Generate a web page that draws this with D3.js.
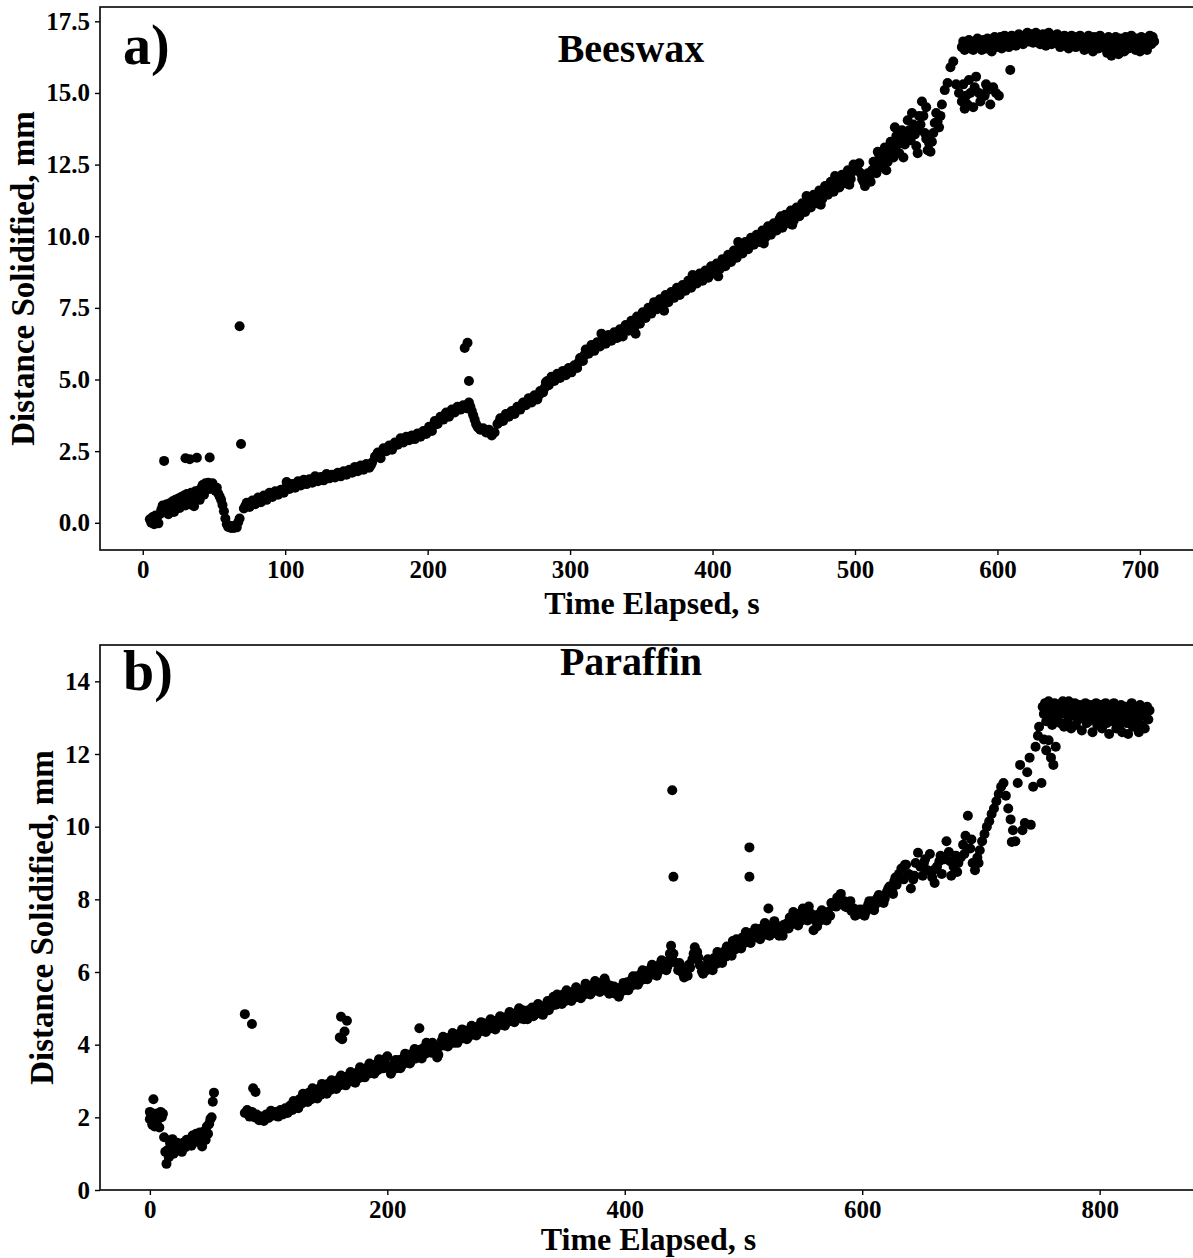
<!DOCTYPE html>
<html>
<head>
<meta charset="utf-8">
<script src="https://cdn.jsdelivr.net/npm/d3@7"></script>
<style>
  html, body { margin: 0; padding: 0; background: #fff; }
  svg { display: block; }
  text { font-family: "Liberation Serif", "Times New Roman", serif; font-weight: bold; fill: #000; }
</style>
</head>
<body>
<svg id="chart" width="1193" height="1258"></svg>
<script>
// Solidification front vs. time — two stacked scatter panels

// --- data (time s, distance mm) ---
const beeswax = [
  [5,0.12],[6,0.0],[7,0.2],[8,-0.05],[9,0.25],[10,0.05],[11,-0.02],[12,0.3],[13,0.45],[14,0.6],
  [15,2.16],[16,0.42],[17,0.65],[18,0.3],[19,0.68],[20,0.48],[21,0.75],[22,0.38],[23,0.8],[24,0.58],
  [25,0.85],[26,0.52],[27,0.9],[28,0.68],[29,0.95],[30,2.25],[30,0.6],[31,1.0],[32,0.78],[33,2.22],
  [33,0.65],[34,1.05],[35,0.82],[36,0.58],[37,1.1],[38,2.27],[38,0.88],[39,1.12],[40,0.8],[41,1.2],
  [42,1.32],[43,0.98],[44,1.38],[45,1.22],[46,1.4],[47,2.28],[47,1.18],[48,1.32],[49,1.38],[50,1.25],
  [51,1.12],[52,1.22],[53,1.02],[54,0.92],[55,0.8],[56,0.62],[57,0.4],[58,0.15],[59,-0.05],[60,-0.15],
  [61,-0.1],[62,-0.18],[63,-0.12],[64,-0.18],[65,-0.1],[66,-0.16],[67,0.02],[68,0.15],[68,6.86],[69,2.75],
  [71,0.5],[73,0.7],[75,0.55],[77,0.78],[79,0.65],[81,0.88],[83,0.72],[85,0.95],[87,0.8],[89,1.05],
  [91,0.9],[93,1.1],[95,0.98],[97,1.15],[99,1.05],[101,1.42],[103,1.18],[105,1.35],[107,1.22],[109,1.45],
  [111,1.3],[113,1.5],[115,1.35],[117,1.52],[119,1.4],[121,1.62],[123,1.45],[125,1.6],[127,1.48],[129,1.7],
  [131,1.55],[133,1.68],[135,1.58],[137,1.75],[139,1.62],[141,1.8],[143,1.68],[145,1.85],[147,1.75],[149,1.95],
  [151,1.8],[153,2.0],[155,1.85],[157,2.05],[159,1.92],[161,2.1],[163,2.3],[165,2.45],[167,2.25],[169,2.6],
  [171,2.5],[173,2.7],[175,2.55],[177,2.8],[179,2.72],[181,2.95],[183,2.8],[185,3.0],[187,2.88],[189,3.05],
  [191,2.92],[193,3.12],[195,3.0],[197,3.2],[199,3.1],[201,3.35],[203,3.2],[205,3.55],[207,3.45],[209,3.7],
  [211,3.6],[213,3.85],[215,3.7],[217,3.95],[219,3.85],[221,4.05],[223,3.95],[225,4.1],[226,6.1],[227,4.0],
  [228,6.28],[229,4.2],[229,4.95],[230,4.05],[231,3.9],[232,3.75],[233,3.6],[234,3.45],[235,3.35],[236,3.3],
  [237,3.25],[239,3.3],[241,3.15],[243,3.25],[245,3.05],[247,3.15],[249,3.45],[251,3.65],[253,3.55],[255,3.8],
  [257,3.7],[259,3.9],[261,3.8],[263,4.05],[265,3.95],[267,4.2],[269,4.1],[271,4.35],[273,4.2],[275,4.45],
  [277,4.3],[279,4.6],[281,4.55],[283,4.9],[285,4.8],[287,5.1],[289,4.95],[291,5.2],[293,5.05],[295,5.3],
  [297,5.15],[299,5.4],[301,5.25],[303,5.5],[305,5.4],[307,5.75],[309,5.65],[311,6.05],[313,5.9],[315,6.2],
  [317,6.0],[319,6.3],[321,6.15],[323,6.45],[325,6.25],[327,6.55],[329,6.35],[331,6.65],[333,6.45],[335,6.75],
  [337,6.5],[339,6.9],[341,6.7],[343,7.05],[345,6.8],[347,7.2],[349,6.95],[351,7.35],[353,7.15],[355,7.5],
  [357,7.3],[359,7.7],[361,7.45],[363,7.8],[365,7.55],[367,7.95],[369,7.7],[371,8.05],[373,7.85],[375,8.2],
  [377,7.95],[379,8.3],[381,8.1],[383,8.45],[385,8.2],[387,8.55],[389,8.35],[391,8.7],[393,8.45],[395,8.8],
  [397,8.55],[399,8.95],[401,8.7],[403,9.05],[405,8.85],[407,9.2],[409,8.95],[411,9.35],[413,9.1],[415,9.5],
  [417,9.25],[419,9.65],[421,9.4],[423,9.8],[425,9.55],[427,9.95],[429,9.7],[431,10.05],[433,9.8],[435,10.2],
  [437,9.95],[439,10.35],[441,10.05],[443,10.45],[445,10.2],[447,10.6],[449,10.3],[451,10.75],[453,10.45],[455,10.9],
  [457,10.55],[459,11.0],[461,10.7],[463,11.15],[465,10.85],[467,11.3],[469,11.0],[471,11.45],[473,11.15],[475,11.6],
  [477,11.3],[479,11.75],[481,11.45],[483,11.9],[485,11.55],[487,12.0],[489,11.7],[491,12.15],[493,11.85],[495,12.3],
  [497,12.0],[499,12.5],[501,12.35],[503,12.55],[505,12.0],[507,11.75],[509,12.2],[511,11.9],[513,12.6],[515,12.2],
  [517,12.85],[519,12.4],[521,13.1],[523,12.6],[525,13.3],[527,12.75],[529,13.5],[531,12.9],[533,13.7],[535,13.2],
  [537,14.05],[539,13.35],[541,13.9],[543,13.15],[545,14.2],[547,14.7],[549,13.6],[551,13.0],[553,12.95],[555,13.6],
  [557,14.3],[559,13.8],[561,14.6],[563,15.1],[565,15.35],[567,15.9],[569,16.1],[571,15.3],[573,15.0],[575,14.7],
  [576,15.3],[577,14.45],[578,14.9],[579,14.6],[580,15.45],[581,15.0],[583,14.5],[584,15.2],[585,15.57],[587,15.0],
  [588,14.7],[589,14.85],[591,14.9],[592,15.3],[593,15.1],[595,14.6],[597,15.2],[599,15.0],[601,14.9],[609,15.8],
  [575,16.6],[576,16.8],[577,16.5],[578,16.75],[579,16.6],[580,16.85],[581,16.55],[582,16.7],[583,16.5],[584,16.8],
  [585,16.65],[586,16.9],[587,16.6],[588,16.75],[589,16.5],[590,16.85],[591,16.7],[592,16.55],[593,16.9],[594,16.65],
  [595,16.8],[596,16.45],[597,16.75],[598,16.95],[599,16.6],[600,16.85],[601,16.7],[602,16.95],[603,16.55],[604,16.8],
  [605,17.0],[606,16.7],[607,16.9],[608,16.6],[609,16.85],[610,17.0],[611,16.75],[612,16.95],[613,16.65],[614,16.9],
  [615,17.05],[616,16.8],[617,16.95],[618,16.7],[619,17.0],[620,16.85],[621,17.1],[622,16.8],[623,16.95],[624,17.05],
  [625,16.75],[626,16.9],[627,17.1],[628,16.85],[629,17.0],[630,16.7],[631,16.95],[632,17.05],[633,16.8],[634,16.65],
  [635,16.95],[636,17.1],[637,16.85],[638,16.7],[639,17.0],[640,16.9],[641,16.75],[642,17.05],[643,16.85],[644,16.6],
  [645,16.95],[646,16.8],[647,17.0],[648,16.7],[649,16.9],[650,16.55],[651,16.85],[652,17.0],[653,16.75],[654,16.9],
  [655,16.6],[656,16.95],[657,16.8],[658,17.0],[659,16.65],[660,16.85],[661,16.5],[662,16.9],[663,16.75],[664,17.0],
  [665,16.6],[666,16.85],[667,16.45],[668,16.95],[669,16.7],[670,16.85],[671,16.55],[672,17.0],[673,16.75],[674,16.9],
  [675,16.6],[676,16.8],[677,16.4],[678,16.95],[679,16.7],[680,16.3],[681,16.85],[682,16.6],[683,16.95],[684,16.75],
  [685,16.35],[686,16.9],[687,16.65],[688,16.8],[689,16.45],[690,16.95],[691,16.7],[692,16.55],[693,16.85],[694,17.0],
  [695,16.6],[696,16.8],[697,16.5],[698,16.9],[699,16.7],[700,16.45],[701,16.95],[702,16.75],[703,16.6],[704,16.9],
  [705,16.5],[706,16.85],[707,17.0],[708,16.7],[709,16.95],[710,16.8]
]

// extra beeswax readings inside the thick part of the band
const beeswaxBand = [
  [72,0.58],[76,0.72],[80,0.75],[84,0.85],[88,0.95],[92,1.02],[96,1.1],[100,1.2],[104,1.25],[108,1.35],
  [112,1.4],[116,1.45],[120,1.5],[124,1.55],[128,1.6],[132,1.62],[136,1.68],[140,1.72],[144,1.78],[148,1.82],
  [152,1.9],[156,1.95],[160,2.0],[164,2.35],[168,2.45],[172,2.6],[176,2.7],[180,2.82],[184,2.9],[188,2.98],
  [192,3.02],[196,3.1],[200,3.22],[204,3.4],[208,3.58],[212,3.75],[216,3.82],[220,3.95],[224,4.05],[228,4.1],
  [250,3.5],[254,3.7],[258,3.85],[262,3.95],[266,4.1],[270,4.25],[274,4.35],[278,4.45],
  [282,4.7],[284,4.95],[286,4.9],[288,5.05],[290,5.1],[292,5.1],[294,5.2],[296,5.25],[298,5.3],[300,5.35],
  [302,5.4],[304,5.45],[306,5.6],[308,5.7],[310,5.85],[312,5.95],[314,6.05],[316,6.1],[318,6.15],[320,6.25],
  [322,6.3],[324,6.35],[326,6.4],[328,6.45],[330,6.5],[332,6.55],[334,6.6],[336,6.65],[338,6.7],[340,6.8],
  [342,6.85],[344,6.95],[346,7.0],[348,7.1],[350,7.15],[352,7.25],[354,7.35],[356,7.4],[358,7.5],[360,7.6],
  [362,7.65],[364,7.7],[366,7.75],[368,7.85],[370,7.9],[372,7.95],[374,8.0],[376,8.1],[378,8.15],[380,8.2],
  [382,8.3],[384,8.35],[386,8.4],[388,8.45],[390,8.55],[392,8.6],[394,8.65],[396,8.7],[398,8.75],[400,8.85],
  [402,8.9],[404,8.95],[406,9.05],[408,9.1],[410,9.15],[412,9.25],[414,9.3],[416,9.4],[418,9.45],[420,9.55],
  [422,9.6],[424,9.7],[426,9.75],[428,9.85],[430,9.9],[432,9.95],[434,10.0],[436,10.1],[438,10.15],[440,10.2],
  [442,10.25],[444,10.35],[446,10.4],[448,10.45],[450,10.55],[452,10.6],[454,10.7],[456,10.75],[458,10.8],[460,10.85],
  [462,10.95],[464,11.0],[466,11.1],[468,11.15],[470,11.2],[472,11.3],[474,11.4],[476,11.45],[478,11.55],[480,11.6],
  [482,11.7],[484,11.75],[486,11.8],[488,11.85],[490,11.95],[492,12.0],[494,12.1],[496,12.15],[498,12.25],[500,12.45],
  [502,12.3],[504,12.2],[506,11.9],[508,11.95],[510,12.05],[512,12.3],[514,12.4],[516,12.5],[518,12.65],[520,12.75],
  [522,12.85],[524,12.95],[526,13.05],[528,13.1],[530,13.2],[532,13.35],[534,13.45],[536,13.6],[538,13.7],[540,13.65],
  [542,13.55],[544,13.7],[546,13.9],[548,14.2],[550,13.4],[552,13.25],[554,13.3],[556,13.95],[558,14.0],[560,14.2],
  [322,6.6],[346,6.6],[366,7.4],[386,8.65],[404,8.6],[418,9.8],[436,9.75],[448,10.7],[456,10.4],[466,11.4],
  [476,11.1],[486,12.1],[496,11.8],[516,12.95],[522,12.3],[528,13.8],[534,12.75],[540,14.3],[544,12.9],[550,14.5]
]

const paraffin = [
  [0,2.15],[0,1.95],[1,2.0],[2,1.8],[3,2.5],[4,1.75],[5,2.1],[6,1.9],[7,2.05],[8,1.72],[9,2.15],
  [10,2.0],[11,2.1],[12,1.45],[13,1.05],[14,0.72],[15,1.1],[16,0.9],[17,1.3],[18,1.05],[19,1.4],
  [20,1.0],[21,1.2],[22,1.1],[23,1.3],[24,1.15],[26,1.2],[27,1.05],[28,1.3],[30,1.18],[31,1.38],[32,1.25],
  [34,1.4],[35,1.22],[36,1.5],[38,1.32],[39,1.55],[40,1.42],[42,1.58],[44,1.2],[45,1.45],[46,1.62],[47,1.38],
  [48,1.75],[49,1.55],[50,1.82],[51,1.95],[52,2.0],[53,2.43],[54,2.68],
  [80,4.84],[86,4.57],[87,2.8],[89,2.7],
  [80,2.12],[82,2.2],[84,2.02],[86,2.15],[88,2.0],[90,2.08],[92,1.92],[94,2.02],[96,1.9],[98,2.08],
  [100,1.98],[102,2.18],[104,2.05],[106,2.15],[108,2.02],[110,2.2],[112,2.08],[114,2.25],[116,2.12],[118,2.32],
  [120,2.2],[122,2.42],[124,2.28],[126,2.5],[128,2.38],[130,2.6],[132,2.45],[134,2.68],[136,2.5],[138,2.7],
  [140,2.55],[142,2.78],[144,2.62],[146,2.85],[148,2.7],[150,2.92],[152,2.75],[154,2.95],[156,2.8],[158,3.02],
  [160,2.88],[160,4.2],[161,4.77],[162,4.15],[164,4.36],[166,4.66],
  [162,3.08],[164,2.92],[166,3.12],[168,2.98],[170,3.18],[172,3.02],[174,3.22],[176,3.08],[178,3.3],[180,3.15],
  [182,3.35],[184,3.2],[186,3.4],[188,3.25],[190,3.45],[192,3.3],[194,3.5],[196,3.35],[198,3.6],[200,3.68],
  [202,3.4],[204,3.28],[206,3.5],[208,3.35],[210,3.58],[212,3.42],[214,3.65],[216,3.5],[218,3.72],[220,3.55],
  [222,3.78],[224,3.62],[226,3.85],[227,4.45],[228,3.68],[230,3.9],[232,3.75],[234,3.98],[236,3.82],[238,4.05],
  [240,3.9],[242,3.65],[244,3.95],[246,4.12],[248,3.98],[250,4.18],[252,4.02],[254,4.22],[256,4.05],[258,4.28],
  [260,4.12],[262,4.32],[264,4.18],[266,4.38],[268,4.2],[270,4.42],[272,4.28],[274,4.48],[276,4.32],[278,4.52],
  [280,4.38],[282,4.58],[284,4.42],[286,4.6],[288,4.45],[290,4.65],[292,4.5],[294,4.7],[296,4.55],[298,4.75],
  [300,4.6],[302,4.8],[304,4.65],[306,4.85],[308,4.7],[310,4.9],[312,4.72],[314,4.95],[316,4.78],[318,4.7],
  [320,4.92],[322,5.02],[324,4.82],[326,5.0],[328,4.88],[330,5.05],[332,4.9],[334,5.1],[336,4.95],[338,5.2],
  [340,5.32],[342,5.1],[344,5.3],[346,5.15],[348,5.38],[350,5.2],[352,5.42],[354,5.25],[356,5.45],[358,5.3],
  [360,5.48],[362,5.32],[364,5.52],[366,5.38],[368,5.6],[370,5.42],[372,5.62],[374,5.48],[376,5.68],[378,5.52],
  [380,5.7],[382,5.55],[384,5.72],[386,5.45],[388,5.62],[390,5.48],[392,5.4],[394,5.55],[396,5.42],[398,5.6],
  [400,5.5],[402,5.72],[404,5.58],[406,5.8],[408,5.65],[410,5.88],[412,5.72],[414,5.95],[416,5.8],[418,6.02],
  [420,5.88],[422,6.1],[424,5.95],[426,6.15],[428,6.0],[430,6.22],[432,6.08],[434,6.28],[436,6.15],[438,6.5],
  [439,6.72],[440,11.0],[440,6.35],[441,8.62],[441,6.5],[443,6.25],[445,6.05],[447,6.15],[449,5.95],[451,6.05],
  [453,5.9],[455,6.12],[457,6.35],[459,6.68],[461,6.55],[463,6.2],[465,6.02],[467,6.15],[469,6.05],[471,6.28],
  [473,6.12],[475,6.38],[477,6.22],[479,6.5],[481,6.35],[483,6.55],[485,6.42],[487,6.65],[489,6.5],[491,6.85],
  [493,6.62],[495,6.8],[497,6.72],[499,6.95],[501,6.8],[503,7.05],[505,9.43],[505,8.62],[505,6.9],[507,7.08],
  [509,6.95],[511,7.12],[513,6.98],[515,7.2],[517,7.02],[519,7.25],[521,7.75],[521,7.1],[523,7.28],[525,7.12],
  [527,7.3],[529,7.05],[531,7.22],[533,7.0],[535,7.18],[537,7.35],[539,7.5],[541,7.32],[543,7.55],[545,7.38],
  [547,7.6],[549,7.42],[551,7.68],[553,7.5],[555,7.8],[557,7.6],[559,7.15],[561,7.4],[563,7.58],[565,7.42],
  [567,7.6],[569,7.48],[571,7.65],[573,7.55],[575,7.82],[577,7.9],[579,8.05],[581,7.98],[583,7.85],[585,7.95],
  [587,7.78],[589,7.88],[591,7.68],[593,7.75],[595,7.58],[597,7.68],[599,7.6],[601,7.72],[603,7.65],[605,7.85],
  [607,7.75],[609,7.95],[611,7.85],[613,8.05],[615,7.95],[617,8.1],[619,8.02],[621,8.22],[623,8.35],[625,8.25],
  [627,8.5],[628,8.6],[629,8.4],[631,8.7],[633,8.85],[635,8.55],[636,8.95],[637,8.95],[639,8.7],[641,8.3],
  [643,8.55],[644,8.65],[645,9.0],[647,9.28],[649,8.9],[651,8.65],[652,9.0],[653,9.1],[655,8.8],[657,9.25],
  [659,8.6],[660,8.8],[661,8.45],[663,8.9],[665,9.05],[666,9.2],[667,8.7],[669,9.1],[671,9.6],[673,9.3],
  [674,9.05],[675,8.65],[677,8.9],[679,9.2],[680,8.75],[681,9.0],[683,9.15],[685,9.5],[686,9.25],[687,9.75],
  [689,10.3],[691,9.4],[692,9.65],[693,9.0],[695,8.8],[697,9.15],[698,9.0],[699,9.35],[701,9.6],[703,9.8],
  [705,10.0],[707,10.15],[709,10.35],[711,10.5],[713,10.7],[715,10.9],[717,11.1],[719,11.2],[721,10.85],[723,10.5],
  [725,10.2],[726,9.58],[727,9.9],[729,9.6],[731,11.2],[733,11.7],[735,9.9],[737,10.1],[739,11.5],[741,11.9],
  [742,10.05],[744,11.1],[746,12.2],[748,12.5],[749,12.75],[751,11.2],[753,12.4],[755,12.1],[757,12.38],[759,11.9],
  [761,11.7],[763,12.2],
  [752,13.3],[753,13.1],[754,13.4],[755,12.9],[756,13.2],[757,13.45],[758,13.0],[759,13.3],[760,12.8],[761,13.15],
  [762,13.4],[763,12.95],[764,13.25],[765,13.05],[766,13.35],[767,12.85],[768,13.2],[769,13.45],[770,12.75],[771,13.1],
  [772,13.3],[773,12.9],[774,13.45],[775,13.15],[776,12.7],[777,13.3],[778,13.05],[779,13.4],[780,12.8],[781,13.2],
  [782,12.95],[783,13.35],[784,13.1],[785,12.65],[786,13.3],[787,13.0],[788,13.4],[789,12.85],[790,13.2],[791,12.9],
  [792,13.35],[793,13.1],[794,12.6],[795,13.25],[796,13.0],[797,13.4],[798,12.8],[799,13.15],[800,12.95],[801,13.35],
  [802,12.7],[803,13.2],[804,13.05],[805,13.4],[806,12.85],[807,13.25],[808,12.55],[809,13.1],[810,13.3],[811,12.9],
  [812,13.4],[813,13.0],[814,12.7],[815,13.25],[816,13.05],[817,12.8],[818,13.35],[819,12.6],[820,13.15],[821,13.0],
  [822,13.3],[823,12.85],[824,12.55],[825,13.2],[826,12.95],[827,13.4],[828,12.75],[829,13.1],[830,13.3],[831,12.9],
  [832,13.15],[833,12.6],[834,13.35],[835,12.8],[836,13.05],[837,13.25],[838,12.7],[839,13.1],[840,13.3],[841,12.95],
  [842,13.2]
]

// extra paraffin readings inside the thick part of the band
const paraffinBand = [
  [121,2.45],[125,2.25],[129,2.65],[133,2.42],[137,2.8],[141,2.52],[145,2.92],[149,2.65],[153,3.02],[157,2.78],
  [161,3.15],[165,2.88],[169,3.25],[173,2.95],[177,3.38],[181,3.1],[185,3.48],[189,3.2],[193,3.6],[197,3.35],
  [203,3.2],[207,3.58],[211,3.35],[215,3.75],[219,3.48],[223,3.88],[229,3.62],[233,4.05],[237,3.78],[243,3.72],
  [247,4.22],[251,3.95],[255,4.32],[259,4.05],[263,4.42],[267,4.15],[271,4.52],[275,4.25],[279,4.62],[283,4.35],
  [287,4.7],[291,4.42],[295,4.78],[299,4.52],[303,4.9],[307,4.62],[311,5.0],[315,4.7],[319,4.95],[323,4.78],
  [327,5.12],[331,4.82],[335,5.2],[339,5.08],[343,5.38],[347,5.12],[351,5.5],[355,5.2],[359,5.58],[363,5.28],
  [367,5.68],[371,5.38],[375,5.75],[379,5.45],[383,5.82],[387,5.4],[391,5.6],[395,5.32],[399,5.7],[403,5.5],
  [407,5.88],[411,5.65],[415,6.05],[419,5.8],[423,6.2],[427,5.9],[431,6.32],[435,6.05],
  [446,6.25],[450,5.85],[454,6.2],[458,6.5],[462,6.4],[466,5.95],[470,6.35],[474,6.05],[478,6.55],[482,6.25],
  [486,6.7],[490,6.45],[494,6.9],[498,6.65],[502,7.1],[506,6.8],[510,7.2],[514,6.9],[518,7.35],[522,7.0],
  [526,7.4],[530,7.0],[534,7.3],[538,7.2],[542,7.65],[546,7.28],[550,7.75],[554,7.42],[558,7.5],[562,7.25],
  [566,7.7],[570,7.42],[574,7.9],[578,7.8],[582,8.15],[586,7.8],[590,7.95],[594,7.55],[598,7.72],[602,7.55],
  [606,7.95],[610,7.7],[614,8.12],[618,7.9],[622,8.3],[626,8.15]
]

// axis ranges and ticks
const beeswaxXDomain = [-30, 745]
const beeswaxYDomain = [-0.95, 18.0]
const beeswaxXTicks = [0, 100, 200, 300, 400, 500, 600, 700]
const beeswaxYTicks = [0, 2.5, 5, 7.5, 10, 12.5, 15, 17.5]

const paraffinXDomain = [-42, 882]
const paraffinYDomain = [0, 15]
const paraffinXTicks = [0, 200, 400, 600, 800]
const paraffinYTicks = [0, 2, 4, 6, 8, 10, 12, 14]

const xLabel = 'Time Elapsed, s'
const yLabel = 'Distance Solidified, mm'

const svg = d3.select('#chart')
svg.append('rect').attr('width', 1193).attr('height', 1258).attr('fill', '#fff')

function drawPanel(cfg) {
  const { left, right, top, bottom } = cfg.box
  const g = svg.append('g')

  const x = d3.scaleLinear().domain(cfg.xDomain).range([left, right])
  const y = d3.scaleLinear().domain(cfg.yDomain).range([bottom, top])

  // Points
  g.append('g')
    .selectAll('circle')
    .data(cfg.data)
    .join('circle')
    .attr('cx', d => x(d[0]))
    .attr('cy', d => y(d[1]))
    .attr('r', 5)
    .attr('fill', '#000')

  // Axes
  const xAxis = d3.axisBottom(x)
    .tickValues(cfg.xTicks)
    .tickFormat(d3.format('d'))
    .tickSize(5)
    .tickSizeOuter(0)
    .tickPadding(5)
  const yAxis = d3.axisLeft(y)
    .tickValues(cfg.yTicks)
    .tickFormat(cfg.yFormat)
    .tickSize(5)
    .tickSizeOuter(0)
    .tickPadding(5)

  const gx = g.append('g').attr('transform', `translate(0,${bottom})`).call(xAxis)
  const gy = g.append('g').attr('transform', `translate(${left},0)`).call(yAxis)
  for (const ax of [gx, gy]) {
    ax.select('.domain').remove()
    ax.selectAll('line').attr('stroke', '#000').attr('stroke-width', 1.4)
    ax.selectAll('text')
      .attr('font-size', 25)
      .attr('font-family', '"Liberation Serif", serif')
      .attr('font-weight', 'bold')
      .attr('fill', '#000')
  }

  // Frame
  g.append('rect')
    .attr('x', left).attr('y', top)
    .attr('width', right - left).attr('height', bottom - top)
    .attr('fill', 'none')
    .attr('stroke', '#111')
    .attr('stroke-width', 1.7)

  // Labels
  g.append('text')
    .attr('x', (left + right) / 2)
    .attr('y', cfg.xLabelY)
    .attr('text-anchor', 'middle')
    .attr('font-size', 32)
    .text(xLabel)

  g.append('text')
    .attr('transform', `translate(${cfg.yLabelX},${(top + bottom) / 2}) rotate(-90)`)
    .attr('text-anchor', 'middle')
    .attr('font-size', 33)
    .text(yLabel)

  g.append('text')
    .attr('x', 123)
    .attr('y', cfg.tagY)
    .attr('font-size', 56)
    .text(cfg.tag)

  g.append('text')
    .attr('x', 631)
    .attr('y', cfg.titleY)
    .attr('text-anchor', 'middle')
    .attr('font-size', 40)
    .text(cfg.title)
}

drawPanel({
  box: { left: 100, right: 1204, top: 7, bottom: 550 },
  data: beeswax.concat(beeswaxBand),
  xDomain: beeswaxXDomain,
  yDomain: beeswaxYDomain,
  xTicks: beeswaxXTicks,
  yTicks: beeswaxYTicks,
  yFormat: d3.format('.1f'),
  xLabelY: 614,
  yLabelX: 34,
  tag: 'a)',
  tagY: 64,
  title: 'Beeswax',
  titleY: 62
})

drawPanel({
  box: { left: 100, right: 1197, top: 645, bottom: 1190 },
  data: paraffin.concat(paraffinBand),
  xDomain: paraffinXDomain,
  yDomain: paraffinYDomain,
  xTicks: paraffinXTicks,
  yTicks: paraffinYTicks,
  yFormat: d3.format('d'),
  xLabelY: 1250,
  yLabelX: 53,
  tag: 'b)',
  tagY: 690,
  title: 'Paraffin',
  titleY: 675
})
</script>
</body>
</html>
